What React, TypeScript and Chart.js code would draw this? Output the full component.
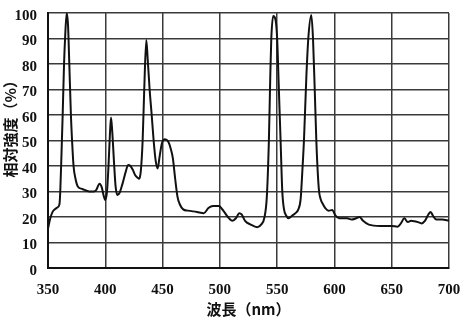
import React, { useEffect, useRef } from "react";
import { Chart, registerables } from "chart.js";

Chart.register(...registerables);

const wavelengths = [
  350, 352, 354, 356, 358, 360, 360.7, 361.8, 362.8, 364, 364.9, 366.3, 367.5, 368.6, 370, 371, 372.3, 374, 376, 380, 386, 390, 392, 395, 397, 398.5, 400,
  401.5, 402.8, 404, 405, 406, 407.8, 409, 410.6, 412.5, 415, 418, 420, 422, 424, 426, 428, 429.6, 431, 432.6, 434, 435.8, 437, 438.7, 440.5, 442.2, 444, 445.7,
  447.5, 449.5, 452, 455, 457, 459, 461, 463, 465, 468, 472, 480, 486, 490, 494, 499, 503, 507, 511, 514, 517, 519, 522, 527, 532.6, 536, 539,
  541, 542.8, 544, 544.9, 546.6, 548.6, 550, 551.5, 553, 554.5, 556, 558, 560, 563, 566, 568.5, 570.5, 572, 573.4, 575.5, 577.2, 579.8, 581.3, 582.8,
  584.2, 585.5, 586.6, 588, 590, 592, 595, 598, 601, 604, 608, 611, 615, 619, 622, 625, 630, 640, 650, 655, 658, 661, 664, 667, 670, 673, 676, 679,
  682, 684, 686, 689, 694, 700,
];

const intensity = [
  15.5, 19.5, 22, 23, 23.7, 25, 30, 45, 60, 80, 90, 100, 95, 80, 60, 50, 40, 35, 32, 31, 30, 30, 30.5, 33, 31.5, 28.5, 26.7,
  30, 40, 52, 59, 54, 40, 32, 28.6, 29.5, 33, 38, 40.4, 40, 38.5, 36.5, 35.5, 35, 38, 50, 70, 89.4, 82, 70, 60, 50, 42, 39,
  44, 49, 50.5, 49.5, 47, 43, 35, 28, 25, 23, 22.5, 22, 21.5, 23.5, 24.3, 24.3, 22.5, 20, 18.5, 19.5, 21.5, 21, 18.5, 17, 16, 17, 20,
  28, 50, 75, 90, 98.8, 97.3, 90, 70, 50, 30, 23, 20.5, 19.5, 20.5, 21.5, 23, 27, 38, 50, 75, 90, 99.2, 90, 70,
  50, 37, 30, 27, 25, 23.5, 22.5, 22.7, 20.5, 19.5, 19.5, 19.5, 19, 19.5, 20, 18.5, 17, 16.5, 16.5, 16.2, 17.5, 19.5, 18, 18.5, 18.3, 18, 17.5, 18.5,
  21, 22, 20.5, 19, 19, 18.5,
];

const xMin = 350;
const xMax = 700;
const xStep = 50;
const yMin = 0;
const yMax = 100;
const yStep = 10;

const xTitle = "波長（nm）";
const yTitle = "相対強度（%）";

const titlePlugin = {
  id: "axisTitles",
  afterDraw(chart: any) {
    const { ctx, chartArea } = chart;
    ctx.save();
    ctx.fillStyle = "#111";
    ctx.font = "bold 15px 'Noto Sans CJK JP', sans-serif";
    ctx.textAlign = "center";
    ctx.textBaseline = "middle";
    const cx = (chartArea.left + chartArea.right) / 2;
    ctx.fillText(xTitle, cx, chartArea.bottom + 41);
    ctx.translate(10, chartArea.top + (chartArea.bottom - chartArea.top) * 0.44);
    ctx.rotate(-Math.PI / 2);
    ctx.fillText(yTitle, 0, 0);
    ctx.restore();
  },
};

export default function App() {
  const ref = useRef<HTMLCanvasElement | null>(null);

  useEffect(() => {
    if (!ref.current) return;
    const points = wavelengths.map((x, i) => ({ x, y: intensity[i] }));
    const tickFont = { family: "'Liberation Serif', serif", size: 15, weight: "bold" as const };
    const chart = new Chart(ref.current, {
      type: "line",
      data: {
        datasets: [
          {
            data: points,
            borderColor: "#111",
            borderWidth: 2,
            pointRadius: 0,
            fill: false,
            cubicInterpolationMode: "monotone",
          },
        ],
      },
      options: {
        animation: false,
        responsive: false,
        maintainAspectRatio: false,
        layout: { padding: { top: 13, right: 13, left: 0, bottom: 0 } },
        plugins: { legend: { display: false }, tooltip: { enabled: false } },
        scales: {
          x: {
            type: "linear",
            min: xMin,
            max: xMax,
            afterFit: (s: any) => {
              s.height = 57;
              s.paddingLeft = 0;
              s.paddingRight = 0;
            },
            ticks: { stepSize: xStep, font: tickFont, color: "#111", padding: 13, maxRotation: 0 },
            grid: { color: "#3a3a3a", lineWidth: 1.5, drawTicks: false },
            border: { color: "#111", width: 2 },
          },
          y: {
            type: "linear",
            min: yMin,
            max: yMax,
            afterFit: (s: any) => {
              s.width = 48;
              s.paddingTop = 0;
              s.paddingBottom = 0;
            },
            ticks: { stepSize: yStep, font: tickFont, color: "#111", padding: 11, labelOffset: 3 },
            grid: { color: "#3a3a3a", lineWidth: 1.5, drawTicks: false },
            border: { color: "#111", width: 2 },
          },
        },
      },
      plugins: [titlePlugin],
    });
    return () => chart.destroy();
  }, []);

  return (
    <div style={{ position: "absolute", left: 0, top: 0, width: 462, height: 325, background: "#fff" }}>
      <canvas ref={ref} width={462} height={325} style={{ width: 462, height: 325 }} />
    </div>
  );
}
